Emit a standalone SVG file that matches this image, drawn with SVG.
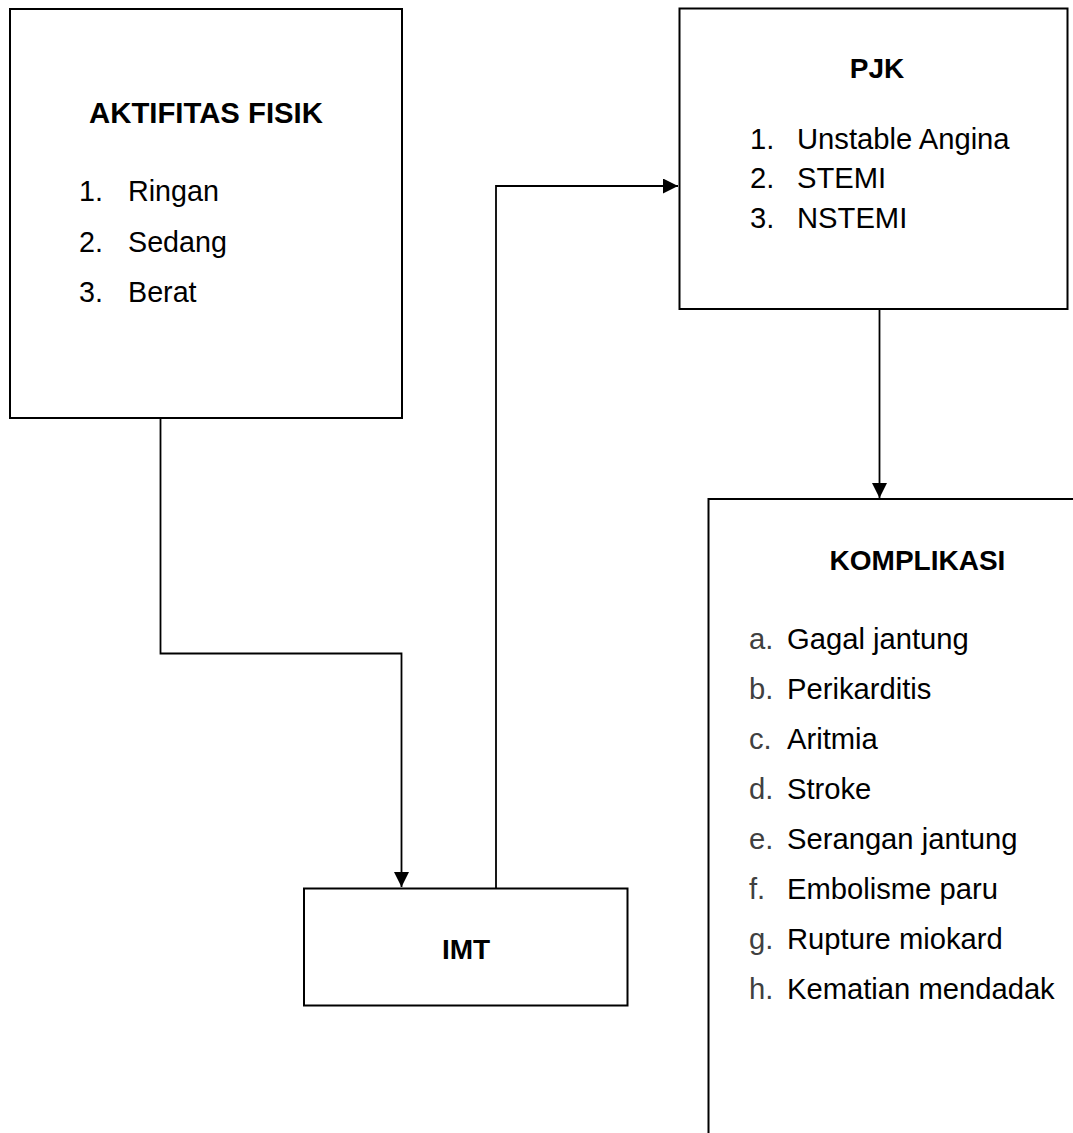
<svg xmlns="http://www.w3.org/2000/svg" width="1073" height="1133" viewBox="0 0 1073 1133">
<defs>
<style>
.box{fill:#fff;stroke:#000;stroke-width:2}
.con{fill:none;stroke:#000;stroke-width:1.8}
.t{font-family:"Liberation Sans",Arial,sans-serif;font-size:28px;fill:#000}
.b{font-weight:bold;text-anchor:middle}
.m{fill:#404040}
.a1{font-size:28.7px}
.a0{font-size:29.3px}
.p1{font-size:29.2px}
.k1{font-size:29.2px}
</style>
<marker id="ah" viewBox="0 0 10 10" refX="10" refY="5" markerWidth="15" markerHeight="15" markerUnits="userSpaceOnUse" orient="auto">
<path d="M0,0 L10,5 L0,10 Z" fill="#000"/>
</marker>
</defs>
<rect width="1073" height="1133" fill="#fff"/>
<g id="connectors">
<path class="con" d="M160.5,418 V653.5 H401.5 V887" marker-end="url(#ah)"/>
<path class="con" d="M496,888 V186 H678" marker-end="url(#ah)"/>
<path class="con" d="M879.5,309 V498" marker-end="url(#ah)"/>
</g>
<g id="aktifitas">
<rect class="box" x="10" y="9" width="392" height="409"/>
<text class="t b a0" x="206" y="123">AKTIFITAS FISIK</text>
<text class="t a1" x="79" y="201">1.</text><text class="t a1" x="128" y="201">Ringan</text>
<text class="t a1" x="79" y="251.5">2.</text><text class="t a1" x="128" y="251.5">Sedang</text>
<text class="t a1" x="79" y="301.5">3.</text><text class="t a1" x="128" y="301.5">Berat</text>
</g>
<g id="pjk">
<rect class="box" x="679.5" y="8.5" width="388" height="300.5"/>
<text class="t b" x="877" y="77.5">PJK</text>
<text class="t p1" x="750" y="148.5">1.</text><text class="t p1" x="797" y="148.5">Unstable Angina</text>
<text class="t p1" x="750" y="188">2.</text><text class="t p1" x="797" y="188">STEMI</text>
<text class="t p1" x="750" y="227.5">3.</text><text class="t p1" x="797" y="227.5">NSTEMI</text>
</g>
<g id="imt">
<rect class="box" x="304" y="888.5" width="323.5" height="117"/>
<text class="t b" x="466" y="958.5">IMT</text>
</g>
<g id="komplikasi">
<rect class="box" x="708.5" y="499" width="400" height="700"/>
<text class="t b" x="917.5" y="570">KOMPLIKASI</text>
<text class="t k1 m" x="749" y="649">a.</text><text class="t k1" x="787" y="649">Gagal jantung</text>
<text class="t k1 m" x="749" y="699">b.</text><text class="t k1" x="787" y="699">Perikarditis</text>
<text class="t k1 m" x="749" y="749">c.</text><text class="t k1" x="787" y="749">Aritmia</text>
<text class="t k1 m" x="749" y="799">d.</text><text class="t k1" x="787" y="799">Stroke</text>
<text class="t k1 m" x="749" y="849">e.</text><text class="t k1" x="787" y="849">Serangan jantung</text>
<text class="t k1 m" x="749" y="899">f.</text><text class="t k1" x="787" y="899">Embolisme paru</text>
<text class="t k1 m" x="749" y="949">g.</text><text class="t k1" x="787" y="949">Rupture miokard</text>
<text class="t k1 m" x="749" y="999">h.</text><text class="t k1" x="787" y="999">Kematian mendadak</text>
</g>
</svg>
